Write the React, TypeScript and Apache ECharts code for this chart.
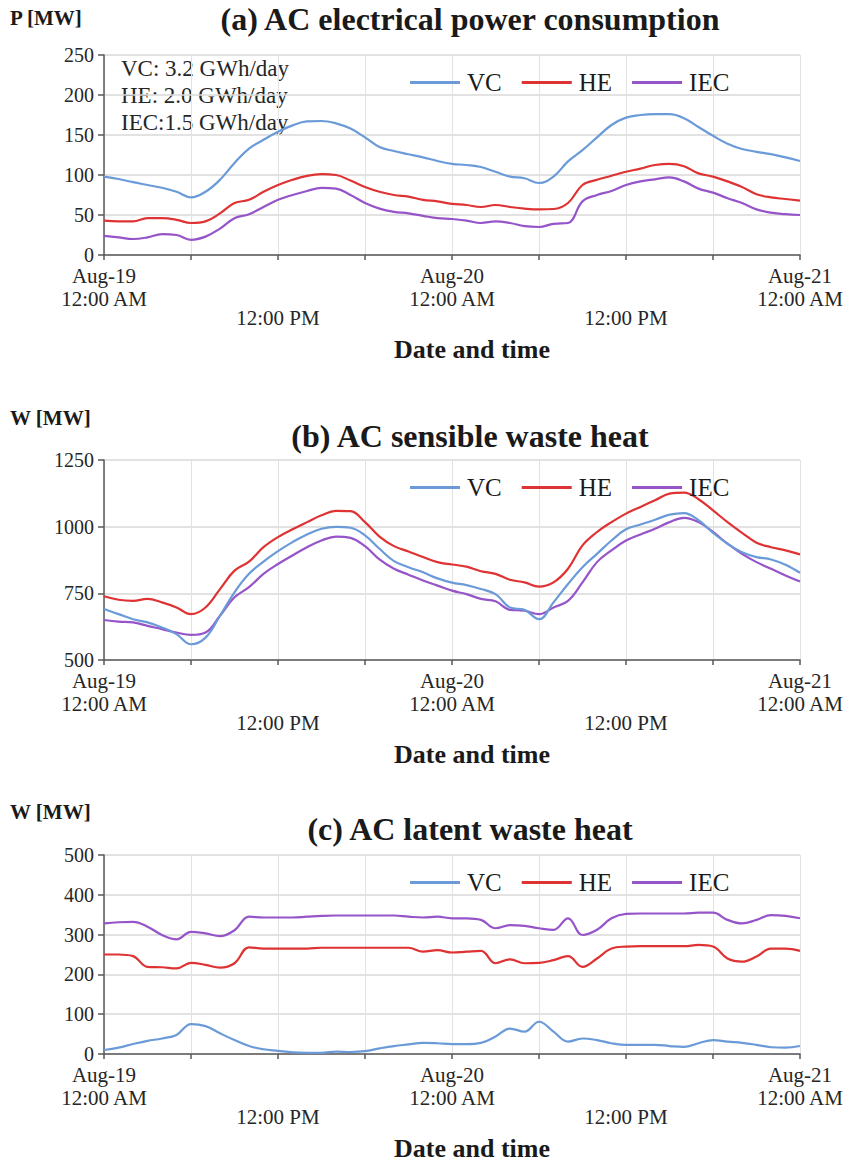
import React, { useEffect, useRef } from "react";
import * as echarts from "echarts";

const HOURS = [0, 1, 2, 3, 4, 5, 6, 7, 8, 9, 10, 11, 12, 13, 14, 15, 16, 17, 18, 19, 20, 21, 22, 23, 24,
  25, 26, 27, 28, 29, 30, 31, 32, 33, 34, 35, 36, 37, 38, 39, 40, 41, 42, 43, 44, 45, 46, 47, 48];

const SERIES_NAMES = ["VC", "HE", "IEC"];
const DATE_LABELS = ["Aug-19", "Aug-20", "Aug-21"];
const TIME_AM = "12:00 AM";
const TIME_PM = "12:00 PM";
const PANEL_TITLES = ["(a) AC electrical power consumption", "(b) AC sensible waste heat", "(c) AC latent waste heat"];
const Y_NAMES = ["P [MW]", "W [MW]", "W [MW]"];
const X_NAME = "Date and time";
const ENERGY_NOTES = ["VC: 3.2 GWh/day", "HE: 2.0 GWh/day", "IEC:1.5 GWh/day"];
const Y_RANGES = [[0, 250, 50], [500, 1250, 250], [0, 500, 100]];

// (a) power consumption
const VC_POWER = [98, 95, 91, 87.5, 84, 79, 72, 79, 94, 115, 133, 144, 154, 162, 167, 167.5, 164.6, 158, 147, 135, 130, 126, 122, 117.5, 114,
  112.5, 110, 104, 98, 96, 90, 98, 117, 131, 147, 162.5, 171.7, 175, 176, 176, 171, 160, 149, 139, 132.5, 129, 126, 122, 117.5];
const HE_POWER = [43, 42, 42, 46, 46, 44, 40, 42, 52, 65, 69, 79, 87.5, 94, 99, 101, 100, 93, 85, 79, 75, 73, 69, 67, 64,
  62.5, 60, 62.5, 60, 58, 57, 57.5, 65, 87.5, 94, 99, 104, 108, 112.5, 114, 111, 102, 98, 92, 85, 76, 72, 70, 68];
const IEC_POWER = [24, 22, 20, 22, 26, 25, 19, 23, 33, 46, 51, 60, 69, 75, 80, 84, 83, 75, 65, 58, 54, 52, 49, 46, 45,
  43, 40, 42, 40, 36, 35, 39, 40, 67, 75, 80, 87.5, 92, 94.6, 97, 92, 83, 78, 71, 65, 57, 53, 51, 50];

// (b) sensible waste heat
const VC_SENSIBLE = [691, 672, 653, 641, 622, 597, 559, 584, 666, 754, 823, 869, 908, 942, 971, 992, 999, 996, 967, 917, 871, 848, 829, 806, 790,
  781, 766, 747, 697, 688, 653, 716, 785, 848, 898, 948, 990, 1008, 1026, 1045, 1051, 1024, 977, 936, 904, 886, 877, 857, 827];
const HE_SENSIBLE = [739, 726, 722, 729, 716, 697, 672, 697, 766, 835, 869, 923, 961, 990, 1017, 1043, 1059, 1058, 1017, 963, 927, 907, 886, 867, 858,
  850, 833, 823, 801, 791, 775, 791, 842, 930, 980, 1017, 1049, 1074, 1099, 1124, 1128, 1103, 1061, 1017, 977, 940, 923, 911, 896];
const IEC_SENSIBLE = [650, 644, 641, 628, 616, 603, 594, 603, 666, 735, 773, 823, 860, 892, 923, 948, 963, 958, 927, 877, 842, 820, 798, 779, 760,
  747, 729, 720, 688, 685, 672, 697, 722, 791, 867, 911, 948, 971, 992, 1017, 1033, 1017, 980, 936, 898, 867, 842, 817, 794];

// (c) latent waste heat
const VC_LATENT = [10, 16, 25, 33, 39, 48, 75, 70, 52, 35, 20, 12, 8, 4, 3, 3, 6, 5, 7, 14, 20, 24, 28, 27, 25,
  25, 28, 44, 64, 56, 81, 56, 31, 39, 35, 27, 23, 23, 23, 20, 18, 27, 35, 31, 28, 23, 17, 16, 20];
const HE_LATENT = [250, 250, 246, 219, 218, 215, 229, 224, 217, 228, 268, 265, 265, 265, 265, 267, 267, 267, 267, 267, 267, 267, 257, 261, 255,
  257, 259, 228, 238, 228, 229, 236, 246, 219, 240, 265, 270, 271, 271, 271, 271, 274, 270, 240, 232, 245, 265, 265, 259];
const IEC_LATENT = [328, 331, 332, 320, 299, 288, 307, 303, 296, 311, 345, 343, 343, 343, 345, 347, 348, 348, 348, 348, 348, 345, 343, 345, 341,
  341, 337, 316, 324, 322, 316, 312, 341, 299, 312, 341, 352, 353, 353, 353, 353, 355, 355, 337, 328, 337, 349, 347, 341];

const PANEL_DATA = [
  [VC_POWER, HE_POWER, IEC_POWER],
  [VC_SENSIBLE, HE_SENSIBLE, IEC_SENSIBLE],
  [VC_LATENT, HE_LATENT, IEC_LATENT],
];

const COLORS = ["#6A9BD8", "#DF3232", "#9654C9"];
const SERIF = "'Liberation Serif', 'Times New Roman', serif";
const GRID_TOPS = [55, 460, 855];
const TITLE_CENTERS = [20, 437, 830];
const YNAME_CENTERS = [18, 418, 812];
const GRID_H = 200;
const GRID_LEFT = 104;
const GRID_RIGHT = 52;

export default function App() {
  const ref = useRef<HTMLDivElement>(null);

  useEffect(() => {
    document.body.style.margin = "0";
    if (!ref.current) return;
    const chart = echarts.init(ref.current, null, { renderer: "svg" });

    const grids: any[] = [];
    const xAxes: any[] = [];
    const yAxes: any[] = [];
    const series: any[] = [];
    const titles: any[] = [];
    const legends: any[] = [];

    for (let p = 0; p < 3; p++) {
      const top = GRID_TOPS[p];
      grids.push({ left: GRID_LEFT, right: GRID_RIGHT, top, height: GRID_H, containLabel: false });
      xAxes.push({
        type: "value",
        gridIndex: p,
        min: 0,
        max: 48,
        interval: 6,
        name: X_NAME,
        nameLocation: "middle",
        nameGap: 81,
        nameTextStyle: {
          fontFamily: SERIF,
          fontWeight: "bold",
          fontSize: 26,
          color: "#1a1a1a",
          padding: [0, 0, 0, 40],
        },
        axisLine: { show: true, lineStyle: { color: "#595959", width: 1.5 } },
        axisTick: { show: true, length: 5, lineStyle: { color: "#595959", width: 1.5 } },
        splitLine: { show: true, lineStyle: { color: "#e2e2e2", width: 1 } },
        axisLabel: {
          margin: 12,
          showMinLabel: true,
          showMaxLabel: true,
          formatter: (v: number) => {
            if (v % 24 === 0) return `{d|${DATE_LABELS[v / 24]}}\n{t|${TIME_AM}}`;
            if (v % 12 === 0) return `{s| }\n{p|${TIME_PM}}`;
            return "";
          },
          rich: {
            d: { fontFamily: SERIF, fontSize: 21, color: "#262626", lineHeight: 18 },
            t: { fontFamily: SERIF, fontSize: 21, color: "#262626", lineHeight: 27 },
            s: { fontSize: 2, lineHeight: 37 },
            p: { fontFamily: SERIF, fontSize: 21, color: "#262626", lineHeight: 27 },
          },
        },
      });
      const [ymin, ymax, yint] = Y_RANGES[p];
      yAxes.push({
        type: "value",
        gridIndex: p,
        min: ymin,
        max: ymax,
        interval: yint,
        axisLine: { show: true, lineStyle: { color: "#595959", width: 1.5 } },
        axisTick: { show: true, length: 6, lineStyle: { color: "#595959", width: 1.5 } },
        splitLine: { show: true, lineStyle: { color: "#d9d9d9", width: 1.5 } },
        axisLabel: {
          fontFamily: SERIF,
          fontSize: 20,
          lineHeight: 16,
          color: "#262626",
          margin: 10,
          formatter: (v: number) => String(v),
        },
      });
      for (let s = 0; s < 3; s++) {
        const vals = PANEL_DATA[p][s];
        series.push({
          type: "line",
          name: SERIES_NAMES[s],
          xAxisIndex: p,
          yAxisIndex: p,
          data: HOURS.map((h, i) => [h, vals[i]]),
          smooth: 0.4,
          showSymbol: false,
          symbol: "none",
          lineStyle: { color: COLORS[s], width: 2.2 },
          itemStyle: { color: COLORS[s] },
          z: s === 0 ? 4 : 3,
        });
      }
      titles.push({
        text: PANEL_TITLES[p],
        left: 470,
        top: TITLE_CENTERS[p] - 17,
        textAlign: "center",
        padding: 0,
        textStyle: { fontFamily: SERIF, fontWeight: "bold", fontSize: 32, color: "#1a1a1a" },
      });
      titles.push({
        text: Y_NAMES[p],
        left: 10,
        top: YNAME_CENTERS[p] - 11,
        padding: 0,
        textStyle: { fontFamily: SERIF, fontWeight: "bold", fontSize: 21, color: "#1a1a1a" },
      });
      legends.push({
        data: SERIES_NAMES,
        left: 410,
        top: top + 15,
        padding: 0,
        itemGap: 20,
        itemWidth: 50,
        itemHeight: 3,
        icon: "rect",
        selectedMode: false,
        textStyle: { fontFamily: SERIF, fontSize: 25, color: "#1a1a1a", padding: [0, 0, 0, 2] },
      });
    }

    chart.setOption({
      animation: false,
      backgroundColor: "#ffffff",
      title: titles,
      legend: legends,
      grid: grids,
      xAxis: xAxes,
      yAxis: yAxes,
      series,
      graphic: [
        {
          type: "text",
          left: 121,
          top: 55,
          style: {
            text: ENERGY_NOTES.join("\n"),
            fontFamily: SERIF,
            fontSize: 23,
            lineHeight: 27,
            fill: "#262626",
          },
        },
      ],
    });

    return () => chart.dispose();
  }, []);

  return <div ref={ref} style={{ width: 852, height: 1162 }} />;
}
